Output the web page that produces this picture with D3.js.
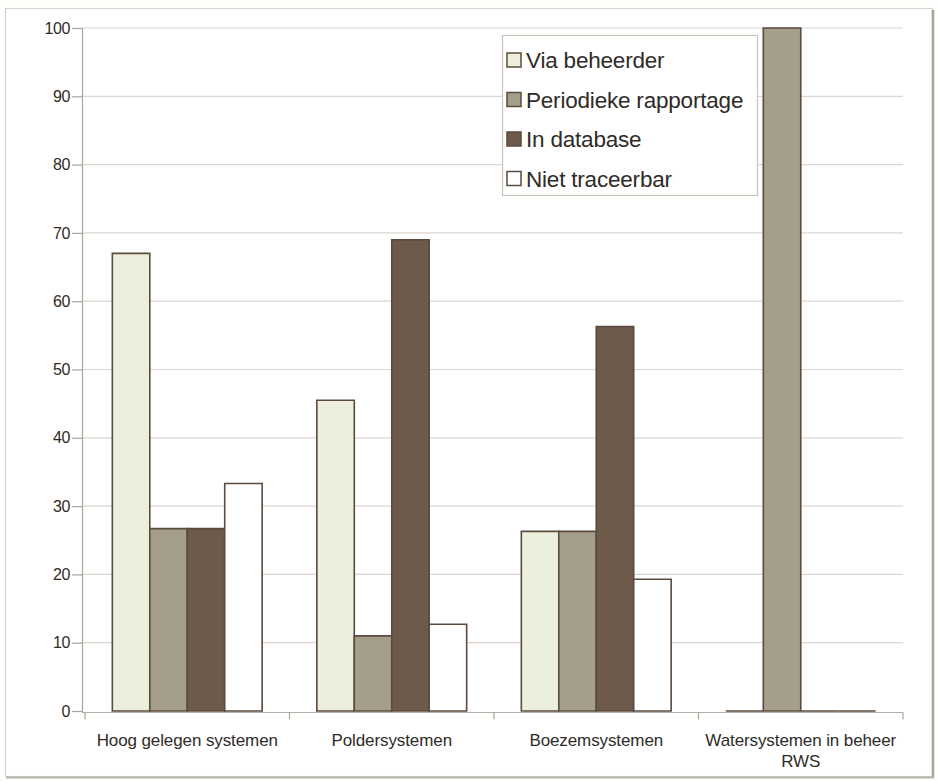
<!DOCTYPE html>
<html>
<head>
<meta charset="utf-8">
<script src="https://cdn.jsdelivr.net/npm/d3@7"></script>
<style>
  html, body { margin: 0; padding: 0; background: #fefefc; }
  svg { display: block; }
  text { font-family: "Liberation Sans", Arial, Helvetica, sans-serif; fill: #2f2b27; }
</style>
</head>
<body>
<svg id="chart" width="938" height="781"></svg>
<script>
// Herkomst van de gegevens per type watersysteem (percentages)
const categories = [
  ["Hoog gelegen systemen"],
  ["Poldersystemen"],
  ["Boezemsystemen"],
  ["Watersystemen in beheer", "RWS"]
];
const seriesNames = ["Via beheerder", "Periodieke rapportage", "In database", "Niet traceerbar"];
const viaBeheerder = [67, 45.5, 26.3, 0];
const periodiekeRapportage = [26.7, 11, 26.3, 100];
const inDatabase = [26.7, 69, 56.3, 0];
const nietTraceerbar = [33.3, 12.7, 19.3, 0];
const yTicks = [0, 10, 20, 30, 40, 50, 60, 70, 80, 90, 100];

const seriesValues = [viaBeheerder, periodiekeRapportage, inDatabase, nietTraceerbar];
const fills = ["#edefdd", "#a49e8b", "#6d5a4b", "#ffffff"];
const barStroke = "#5b4a3e";

const svg = d3.select("#chart");

// outer frame
svg.append("rect").attr("x", 5.5).attr("y", 8.5).attr("width", 927).attr("height", 768)
  .attr("fill", "#ffffff").attr("stroke", "#d6d3cc").attr("stroke-width", 1.2);
svg.append("line").attr("x1", 933).attr("x2", 933).attr("y1", 10).attr("y2", 777)
  .attr("stroke", "#a8a49c").attr("stroke-width", 2.5);
svg.append("line").attr("x1", 6).attr("x2", 934).attr("y1", 777.5).attr("y2", 777.5)
  .attr("stroke", "#b8b4ac").attr("stroke-width", 2);

const plotLeft = 82, plotRight = 903;
const y = d3.scaleLinear().domain([0, 100]).range([711, 28]);
const catKeys = categories.map(c => c.join(" "));
const x0 = d3.scaleBand().domain(catKeys).range([85, plotRight]).paddingInner(0).paddingOuter(0);
const x1 = d3.scaleBand().domain(seriesNames).range([0, x0.bandwidth()]).paddingInner(0).paddingOuter(0.73);

// horizontal grid lines
svg.append("g").selectAll("line").data(yTicks.filter(t => t > 0)).join("line")
  .attr("x1", plotLeft).attr("x2", plotRight)
  .attr("y1", d => y(d)).attr("y2", d => y(d))
  .attr("stroke", "#d9d7d0").attr("stroke-width", 1.2);

// y axis
const yAxis = svg.append("g").attr("transform", `translate(${plotLeft},0)`)
  .call(d3.axisLeft(y).tickValues(yTicks).tickSize(10).tickPadding(2).tickFormat(d3.format("d")));
yAxis.select(".domain").attr("stroke", "#a9a59b").attr("stroke-width", 1.2);
yAxis.selectAll(".tick line").attr("stroke", "#a9a59b").attr("stroke-width", 1.2);
yAxis.selectAll(".tick text").style("font-size", "16px").style("letter-spacing", "-0.4px")
  .attr("fill", "#2f2b27").attr("font-family", null);

// x axis
const xAxis = svg.append("g").attr("transform", `translate(0,${y(0) + 1.5})`);
xAxis.append("line").attr("x1", plotLeft).attr("x2", plotRight).attr("y1", 0).attr("y2", 0)
  .attr("stroke", "#b3afa5").attr("stroke-width", 1.2);
xAxis.selectAll("line.tk").data(catKeys.concat(["end"])).join("line").attr("class", "tk")
  .attr("x1", (d, i) => i < catKeys.length ? x0(d) : plotRight)
  .attr("x2", (d, i) => i < catKeys.length ? x0(d) : plotRight)
  .attr("y1", 0).attr("y2", 7)
  .attr("stroke", "#a9a59b").attr("stroke-width", 1.2);

// bars as closed paths, so zero values still show as an outline on the baseline
const groups = svg.append("g").selectAll("g").data(catKeys).join("g")
  .attr("transform", d => `translate(${x0(d)},0)`);
groups.selectAll("path")
  .data((d, i) => seriesNames.map((s, j) => ({ s, j, v: seriesValues[j][i] })))
  .join("path")
  .attr("d", d => {
    const xa = x1(d.s), xb = xa + x1.bandwidth(), yb = y(0), yt = y(d.v);
    return `M${xa},${yb}V${yt}H${xb}V${yb}Z`;
  })
  .attr("fill", d => fills[d.j])
  .attr("stroke", barStroke)
  .attr("stroke-width", 1.6);

// category labels
svg.append("g").selectAll("text").data(categories).join("text")
  .attr("x", (d, i) => x0(catKeys[i]) + x0.bandwidth() / 2)
  .attr("y", 746)
  .attr("text-anchor", "middle")
  .style("font-size", "17px").style("letter-spacing", "-0.1px")
  .each(function (d) {
    const t = d3.select(this);
    d.forEach((line, k) => {
      t.append("tspan").attr("x", t.attr("x")).attr("dy", k === 0 ? 0 : 21).text(line);
    });
  });

// legend
const legend = svg.append("g").attr("transform", "translate(502,35)");
legend.append("rect").attr("x", 0.5).attr("y", 0.5).attr("width", 255).attr("height", 160)
  .attr("fill", "#ffffff").attr("stroke", "#c9c4b8").attr("stroke-width", 1.2);
const items = legend.selectAll("g.item").data(seriesNames).join("g").attr("class", "item")
  .attr("transform", (d, i) => `translate(0,${25 + i * 39.5})`);
items.append("rect").attr("x", 5).attr("y", -7).attr("width", 14).attr("height", 14)
  .attr("fill", (d, i) => fills[i]).attr("stroke", barStroke).attr("stroke-width", 1.5);
items.append("text").attr("x", 24).attr("y", 8)
  .style("font-size", "22.5px").style("letter-spacing", "-0.2px")
  .text(d => d);
</script>
</body>
</html>
